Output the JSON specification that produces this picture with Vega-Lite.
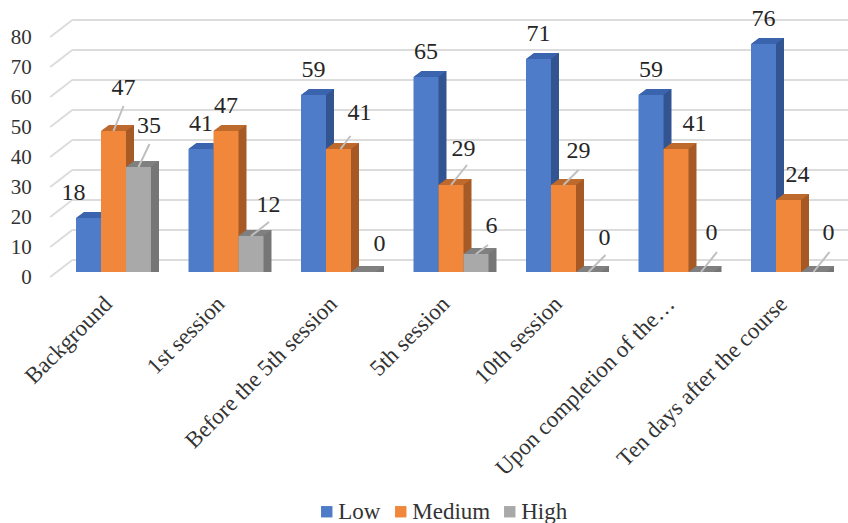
{"$schema":"https://vega.github.io/schema/vega-lite/v6.json","width":787.5,"height":240,"autosize":{"type":"none"},"padding":{"left":57.25,"top":32,"right":3.25,"bottom":251},"background":"white","config":{"view":{"stroke":null},"font":"Liberation Serif"},"resolve":{"scale":{"x":"independent"}},"layer":[{"data":{"values":[{"g":0},{"g":10},{"g":20},{"g":30},{"g":40},{"g":50},{"g":60},{"g":70},{"g":80}]},"encoding":{"x":{"datum":0,"type":"quantitative","scale":{"domain":[0,1]},"axis":null},"y":{"field":"g","type":"quantitative","scale":{"domain":[0,80],"nice":false},"axis":{"title":null,"values":[0,10,20,30,40,50,60,70,80],"grid":false,"domain":false,"ticks":false,"labelFont":"Liberation Serif","labelFontSize":21,"labelColor":"#333333","labelPadding":26,"labelOffset":5.5}},"y2":{"field":"g"}},"layer":[{"mark":{"type":"rule","color":"#dcdcdc","strokeWidth":2,"xOffset":15,"x2Offset":4,"yOffset":-12,"y2Offset":-12},"encoding":{"x2":{"datum":1}}},{"mark":{"type":"rule","color":"#dcdcdc","strokeWidth":2,"xOffset":-7,"x2Offset":15,"yOffset":5,"y2Offset":-12},"encoding":{"x2":{"datum":0}}}]},{"data":{"values":[{"cat":"Background","s":"Low","v":18,"id":"bgL"},{"cat":"Background","s":"Medium","v":47,"id":"bgM"},{"cat":"Background","s":"High","v":35,"id":"bgH"},{"cat":"1st session","s":"Low","v":41,"id":"s1L"},{"cat":"1st session","s":"Medium","v":47,"id":"s1M"},{"cat":"1st session","s":"High","v":12,"id":"s1H"},{"cat":"Before the 5th session","s":"Low","v":59,"id":"b5L"},{"cat":"Before the 5th session","s":"Medium","v":41,"id":"b5M"},{"cat":"Before the 5th session","s":"High","v":0,"id":"b5H"},{"cat":"5th session","s":"Low","v":65,"id":"s5L"},{"cat":"5th session","s":"Medium","v":29,"id":"s5M"},{"cat":"5th session","s":"High","v":6,"id":"s5H"},{"cat":"10th session","s":"Low","v":71,"id":"t0L"},{"cat":"10th session","s":"Medium","v":29,"id":"t0M"},{"cat":"10th session","s":"High","v":0,"id":"t0H"},{"cat":"Upon completion of the…","s":"Low","v":59,"id":"upL"},{"cat":"Upon completion of the…","s":"Medium","v":41,"id":"upM"},{"cat":"Upon completion of the…","s":"High","v":0,"id":"upH"},{"cat":"Ten days after the course","s":"Low","v":76,"id":"tnL"},{"cat":"Ten days after the course","s":"Medium","v":24,"id":"tnM"},{"cat":"Ten days after the course","s":"High","v":0,"id":"tnH"}]},"encoding":{"x":{"field":"cat","type":"nominal","scale":{"domain":["Background","1st session","Before the 5th session","5th session","10th session","Upon completion of the…","Ten days after the course"],"paddingInner":0.3333,"paddingOuter":0.16667},"axis":{"title":null,"domain":false,"ticks":false,"labelAngle":-45,"labelAlign":"right","labelBaseline":"middle","labelFont":"Liberation Serif","labelFontSize":23,"labelColor":"#333333","labelPadding":28,"labelOffset":-5,"labelLimit":0}},"y":{"field":"v","type":"quantitative","stack":null,"scale":{"domain":[0,80],"nice":false},"axis":{"title":null,"values":[0,10,20,30,40,50,60,70,80],"grid":false,"domain":false,"ticks":false,"labelFont":"Liberation Serif","labelFontSize":21,"labelColor":"#333333","labelPadding":26,"labelOffset":5.5}}},"layer":[{"resolve":{"scale":{"xOffset":"independent"}},"encoding":{"color":{"condition":[{"test":"datum.s==='Low'","value":"#335590"},{"test":"datum.s==='Medium'","value":"#a65a26"}],"value":"#767676"}},"layer":[{"mark":{"type":"bar","yOffset":-6,"y2Offset":-6},"encoding":{"xOffset":{"field":"s","type":"nominal","scale":{"domain":["Low","Medium","High"],"range":[8,83]}}}},{"mark":{"type":"bar","yOffset":-5.25,"y2Offset":-5.25},"encoding":{"xOffset":{"field":"s","type":"nominal","scale":{"domain":["Low","Medium","High"],"range":[7,82]}}}},{"mark":{"type":"bar","yOffset":-4.5,"y2Offset":-4.5},"encoding":{"xOffset":{"field":"s","type":"nominal","scale":{"domain":["Low","Medium","High"],"range":[6,81]}}}},{"mark":{"type":"bar","yOffset":-3.75,"y2Offset":-3.75},"encoding":{"xOffset":{"field":"s","type":"nominal","scale":{"domain":["Low","Medium","High"],"range":[5,80]}}}},{"mark":{"type":"bar","yOffset":-3,"y2Offset":-3},"encoding":{"xOffset":{"field":"s","type":"nominal","scale":{"domain":["Low","Medium","High"],"range":[4,79]}}}},{"mark":{"type":"bar","yOffset":-2.25,"y2Offset":-2.25},"encoding":{"xOffset":{"field":"s","type":"nominal","scale":{"domain":["Low","Medium","High"],"range":[3,78]}}}},{"mark":{"type":"bar","yOffset":-1.5,"y2Offset":-1.5},"encoding":{"xOffset":{"field":"s","type":"nominal","scale":{"domain":["Low","Medium","High"],"range":[2,77]}}}},{"mark":{"type":"bar","yOffset":-0.75,"y2Offset":-0.75},"encoding":{"xOffset":{"field":"s","type":"nominal","scale":{"domain":["Low","Medium","High"],"range":[1,76]}}}}]},{"encoding":{"xOffset":{"field":"s","type":"nominal","scale":{"domain":["Low","Medium","High"]}}},"layer":[{"mark":{"type":"point","filled":true,"opacity":1,"shape":"M-12.5,0L12.5,0L20.5,-6L-4.5,-6Z","size":4},"encoding":{"color":{"condition":[{"test":"datum.s==='Low'","value":"#3a64ae"},{"test":"datum.s==='Medium'","value":"#bf6a2d"}],"value":"#808080"}}},{"mark":{"type":"bar"},"encoding":{"color":{"field":"s","type":"nominal","scale":{"domain":["Low","Medium","High"],"range":["#4f7cc9","#f0873a","#a9a9a9"]},"legend":{"title":null,"orient":"none","legendX":258,"legendY":468,"direction":"horizontal","columns":3,"symbolType":"square","symbolSize":130,"symbolStrokeWidth":0,"labelFont":"Liberation Serif","labelFontSize":23,"labelColor":"#333333","columnPadding":8,"labelOffset":0}}}},{"transform":[{"filter":"indexof(['bgM','bgH','s1H','b5M','s5M','s5H','t0M','t0H','upH','tnH'],datum.id)>=0"}],"mark":{"type":"point","filled":false,"opacity":1,"size":4,"strokeWidth":2,"color":"#bfbfbf"},"encoding":{"shape":{"field":"id","type":"nominal","legend":null,"scale":{"domain":["bgM","bgH","s1H","b5M","s5M","s5H","t0M","t0H","upH","tnH"],"range":["M0,0L10,-25","M0,0L11,-23","M0,0L18,-14","M2,0L12,-13","M0,0L16,-20","M0,0L12,-9","M0,0L15,-15","M0,0L17,-17","M0,0L16,-20","M0,0L16,-20"]}}}},{"encoding":{"text":{"field":"v","type":"quantitative"}},"layer":[{"transform":[{"filter":"indexof(['s1L','s1M','b5L','s5L','t0L','upL','tnL'],datum.id)>=0"}],"mark":{"type":"text","fontSize":24,"color":"#262626","dy":-25}},{"transform":[{"filter":"datum.id==='bgL'"}],"mark":{"type":"text","fontSize":24,"color":"#262626","dx":-15,"dy":-25}},{"transform":[{"filter":"datum.id==='bgM'"}],"mark":{"type":"text","fontSize":24,"color":"#262626","dx":10,"dy":-43}},{"transform":[{"filter":"datum.id==='bgH'"}],"mark":{"type":"text","fontSize":24,"color":"#262626","dx":10.5,"dy":-41}},{"transform":[{"filter":"datum.id==='s1H'"}],"mark":{"type":"text","fontSize":24,"color":"#262626","dx":17.5,"dy":-31}},{"transform":[{"filter":"datum.id==='b5M'"}],"mark":{"type":"text","fontSize":24,"color":"#262626","dx":21,"dy":-36}},{"transform":[{"filter":"datum.id==='b5H'"}],"mark":{"type":"text","fontSize":24,"color":"#262626","dx":16,"dy":-28}},{"transform":[{"filter":"datum.id==='s5M'"}],"mark":{"type":"text","fontSize":24,"color":"#262626","dx":12.5,"dy":-36}},{"transform":[{"filter":"datum.id==='s5H'"}],"mark":{"type":"text","fontSize":24,"color":"#262626","dx":15.5,"dy":-28}},{"transform":[{"filter":"datum.id==='t0M'"}],"mark":{"type":"text","fontSize":24,"color":"#262626","dx":15,"dy":-34}},{"transform":[{"filter":"datum.id==='t0H'"}],"mark":{"type":"text","fontSize":24,"color":"#262626","dx":16,"dy":-34}},{"transform":[{"filter":"datum.id==='upM'"}],"mark":{"type":"text","fontSize":24,"color":"#262626","dx":18.5,"dy":-25}},{"transform":[{"filter":"datum.id==='upH'"}],"mark":{"type":"text","fontSize":24,"color":"#262626","dx":10.5,"dy":-39}},{"transform":[{"filter":"datum.id==='tnM'"}],"mark":{"type":"text","fontSize":24,"color":"#262626","dx":9,"dy":-25}},{"transform":[{"filter":"datum.id==='tnH'"}],"mark":{"type":"text","fontSize":24,"color":"#262626","dx":15,"dy":-39}}]}]}]}]}
